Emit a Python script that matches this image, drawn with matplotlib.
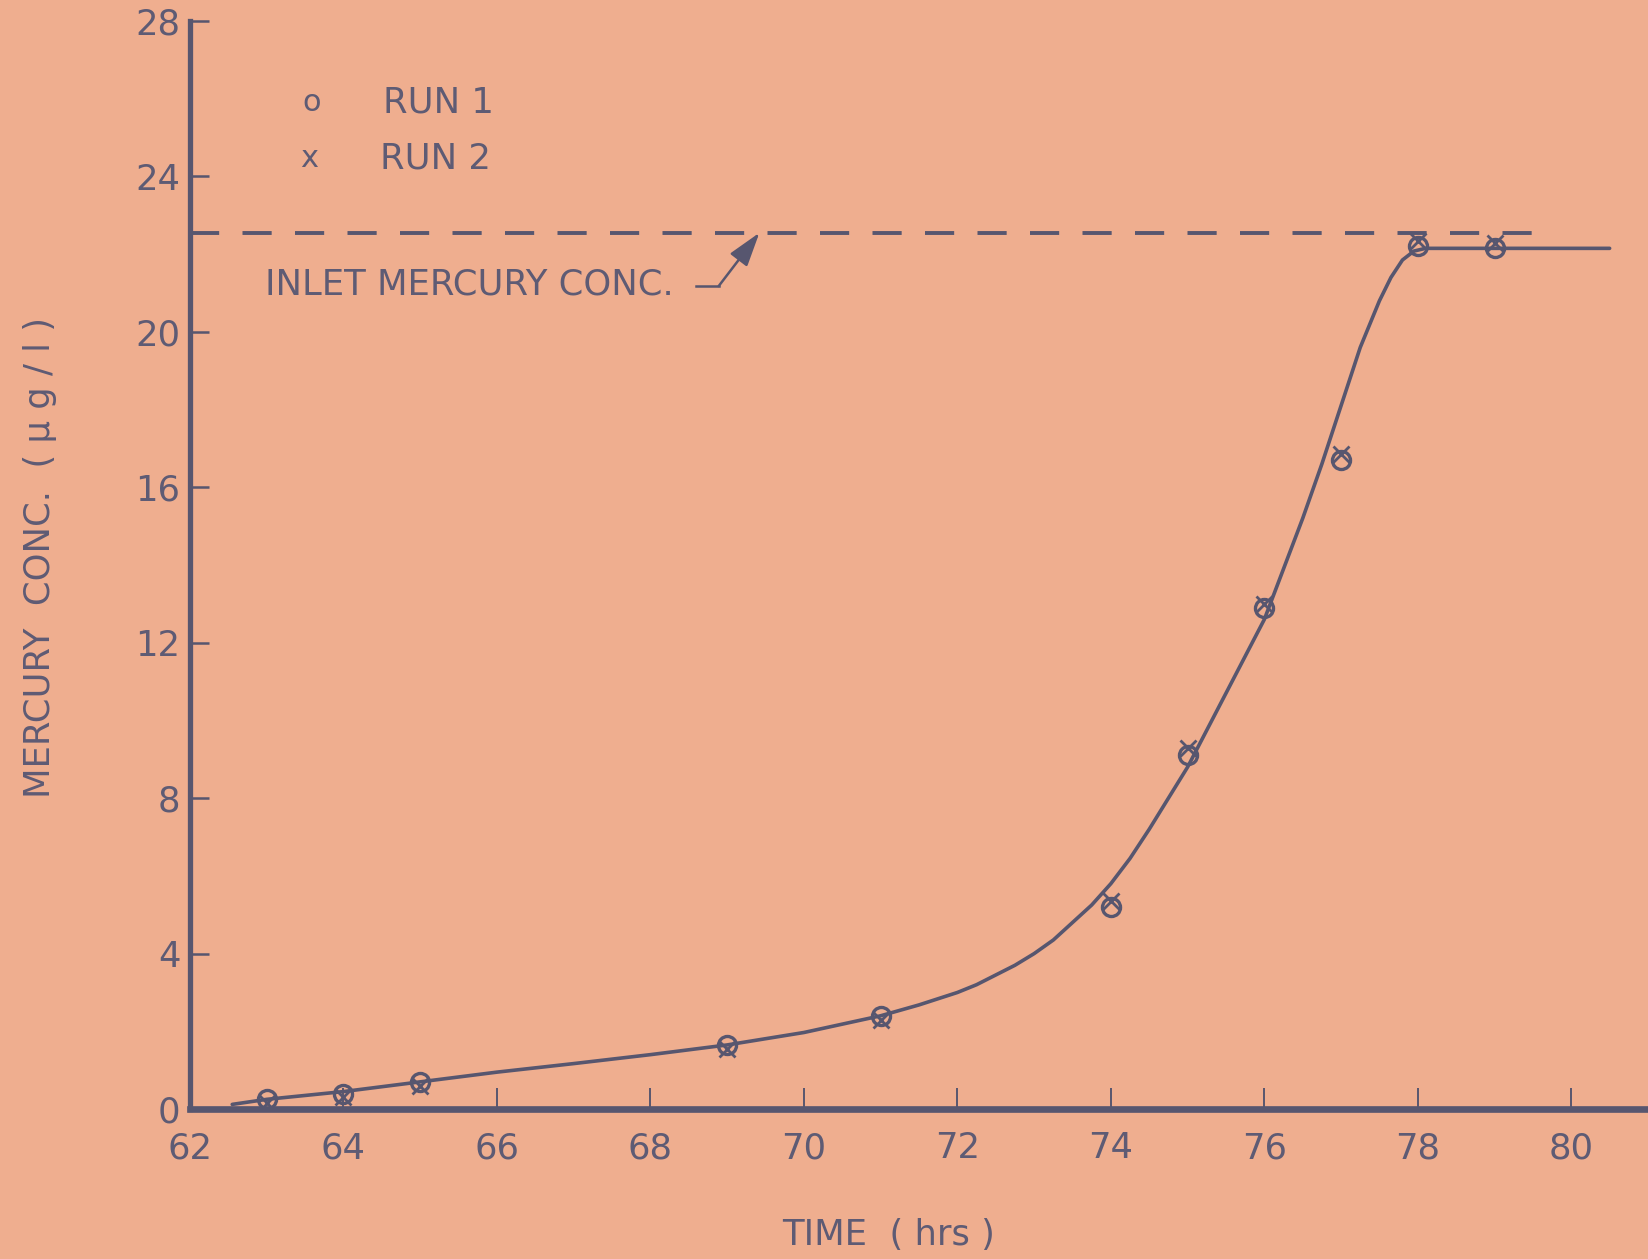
import matplotlib
matplotlib.use("Agg")
import matplotlib.pyplot as plt

time_h = [63, 64, 65, 69, 71, 74, 75, 76, 77, 78, 79]
run1_conc = [0.25, 0.4, 0.7, 1.65, 2.4, 5.2, 9.1, 12.9, 16.7, 22.2, 22.15]
run2_conc = [0.15, 0.3, 0.6, 1.55, 2.3, 5.35, 9.3, 13.0, 16.85, 22.35, 22.3]

# hand-drawn smooth curve
curve_t = [62.55, 63, 64, 65, 66, 67, 68, 69, 70, 71, 71.5, 72, 72.25, 72.5,
           72.75, 73, 73.25, 73.5, 73.75, 74, 74.25, 74.5, 75, 75.5, 76,
           76.25, 76.5, 76.75, 77, 77.25, 77.5, 77.65, 77.8, 77.95, 78.1,
           79, 80.5]
curve_c = [0.12, 0.25, 0.45, 0.7, 0.95, 1.17, 1.4, 1.65, 1.97, 2.4, 2.68, 3.0,
           3.2, 3.45, 3.7, 4.0, 4.35, 4.8, 5.25, 5.8, 6.45, 7.2, 8.8, 10.7,
           12.6, 13.9, 15.2, 16.6, 18.1, 19.6, 20.8, 21.4, 21.85, 22.08,
           22.15, 22.15, 22.15]

inlet_conc = 22.55
inlet_end = 79.7

x_ticks = [62, 64, 66, 68, 70, 72, 74, 76, 78, 80]
y_ticks = [0, 4, 8, 12, 16, 20, 24, 28]

BG = "#efae8f"
INK = "#57566f"
TXT = "#5e5b74"
FS = 25.5

fig = plt.figure(figsize=(16.48, 12.59), dpi=100, facecolor=BG)
ax = fig.add_axes([0.1153, 0.1191, 0.8847, 0.8642])
ax.set_facecolor(BG)

ax.plot(curve_t, curve_c, color=INK, lw=2.6, solid_joinstyle="round",
        solid_capstyle="round", zorder=2)
ax.plot([62, inlet_end], [inlet_conc, inlet_conc], color=INK, lw=2.8,
        dashes=(7.5, 6.0), zorder=2)

ax.plot(time_h, run1_conc, ls="none", marker="o", ms=13, mfc="none",
        mec=INK, mew=2.4, zorder=3)
ax.plot(time_h, run2_conc, ls="none", marker="x", ms=11.5, mec=INK, mew=2.0,
        zorder=3)

# legend drawn as lettering, like the original
ax.text(63.59, 25.9, "o", fontsize=22, color=TXT, ha="center", va="center")
ax.text(64.52, 25.9, "RUN 1", fontsize=FS, color=TXT, ha="left", va="center")
ax.text(63.55, 24.45, "x", fontsize=22, color=TXT, ha="center", va="center")
ax.text(64.48, 24.45, "RUN 2", fontsize=FS, color=TXT, ha="left", va="center")

# inlet label with leader arrow
ax.text(62.98, 21.23, "INLET MERCURY CONC.", fontsize=FS, color=TXT,
        ha="left", va="center")
ax.plot([68.6, 68.89], [21.18, 21.18], color=INK, lw=1.8)
ax.annotate("", xy=(69.42, 22.55), xytext=(68.89, 21.18),
            arrowprops=dict(arrowstyle="-|>,head_length=0.7,head_width=0.22",
                            color=INK, lw=1.8, mutation_scale=30,
                            shrinkA=0, shrinkB=0))

ax.set_xlim(62, 81.0)
ax.set_ylim(0, 28)
ax.set_xticks(x_ticks)
ax.set_yticks(y_ticks)

for s in ("top", "right"):
    ax.spines[s].set_visible(False)
ax.spines["left"].set_linewidth(3.8)
ax.spines["bottom"].set_linewidth(4.8)
ax.spines["left"].set_color(INK)
ax.spines["bottom"].set_color(INK)

ax.tick_params(axis="x", direction="in", length=15, width=1.4, color=INK,
               labelsize=FS, labelcolor=TXT, pad=16)
ax.tick_params(axis="y", direction="in", length=14, width=1.8, color=INK,
               labelsize=FS, labelcolor=TXT, pad=7)

ax.set_xlabel("TIME  ( hrs )", fontsize=FS, color=TXT, va="center")
ax.xaxis.set_label_coords(0.479, -0.116)
ax.set_ylabel("MERCURY  CONC.  ( \u03bc g / l )", fontsize=FS, color=TXT,
              va="center")
ax.yaxis.set_label_coords(-0.103, 0.507)

fig.savefig("out.png", dpi=100, facecolor=BG)
